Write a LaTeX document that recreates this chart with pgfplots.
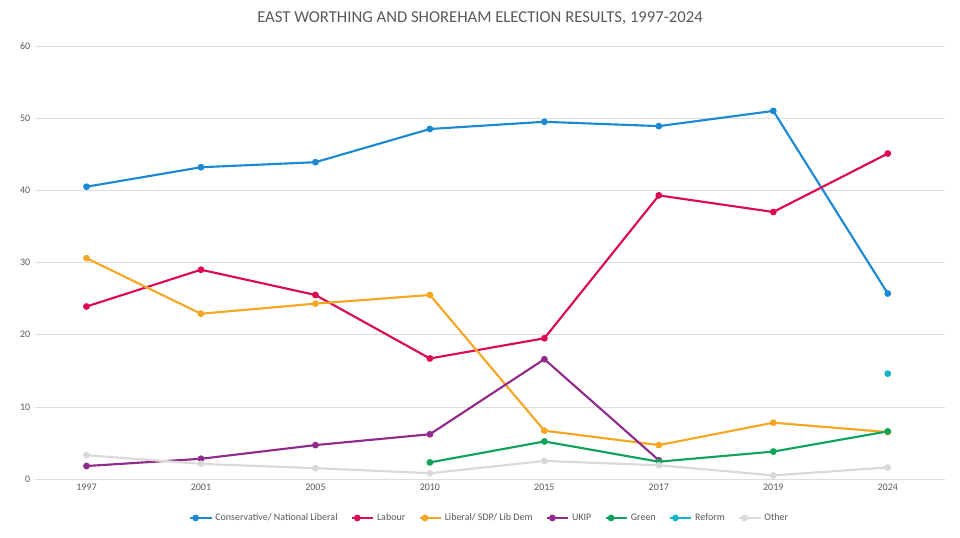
\documentclass[border=0pt]{standalone}
\usepackage{pgfplots}
\pgfplotsset{compat=1.18}
\usepackage{fontspec}
\setmainfont{Carlito}
\definecolor{con}{HTML}{1B8AD3}
\definecolor{lab}{HTML}{DC0A4E}
\definecolor{ld}{HTML}{F5A623}
\definecolor{ukip}{HTML}{902B8C}
\definecolor{grn}{HTML}{11A35A}
\definecolor{ref}{HTML}{14B4CC}
\definecolor{oth}{HTML}{D9D9D9}
\definecolor{txt}{HTML}{595959}
\begin{document}
\begin{tikzpicture}
\path (0,0) rectangle (720pt,402.75pt);
\node[text=txt,font=\fontsize{12.5}{14}\selectfont] at (360pt,389.25pt) {EAST WORTHING AND SHOREHAM ELECTION RESULTS, 1997-2024};
\begin{axis}[
  at={(26.25pt,43.5pt)}, anchor=south west, scale only axis,
  width=682.5pt, height=324.75pt,
  xmin=-0.45, xmax=7.5, ymin=0, ymax=60,
  ytick={0,10,...,60}, xtick={0,...,7},
  xticklabels={1997,2001,2005,2010,2015,2017,2019,2024},
  axis line style={draw=none}, major tick length=0pt,
  ymajorgrids, grid style={draw=black!13},
  tick label style={font=\fontsize{7.5}{8}\selectfont, text=txt},
  /pgf/number format/assume math mode=true,
  every axis plot/.append style={line width=1.6pt, mark=*, mark size=1.7pt},
  legend style={at={(axis description cs:0.5,-0.09)}, anchor=center, draw=none, font=\fontsize{7.5}{8}\selectfont, text=txt, legend columns=-1, /tikz/every even column/.append style={column sep=8pt}},
  legend image code/.code={\draw[#1,line width=1.6pt] (0pt,0pt)--(8pt,0pt); \fill[#1] (4pt,0pt) circle (1.7pt); \draw[#1,line width=1.6pt] (4pt,0pt)--(16pt,0pt);},
]
\addplot[con] coordinates {(0,40.5)(1,43.2)(2,43.9)(3,48.5)(4,49.5)(5,48.9)(6,51.0)(7,25.7)};
\addlegendentry{Conservative/ National Liberal}
\addplot[lab] coordinates {(0,23.9)(1,29.0)(2,25.5)(3,16.7)(4,19.5)(5,39.3)(6,37.0)(7,45.1)};
\addlegendentry{Labour}
\addplot[ld] coordinates {(0,30.6)(1,22.9)(2,24.3)(3,25.5)(4,6.7)(5,4.7)(6,7.8)(7,6.5)};
\addlegendentry{Liberal/ SDP/ Lib  Dem}
\addplot[ukip] coordinates {(0,1.8)(1,2.8)(2,4.7)(3,6.2)(4,16.6)(5,2.6)};
\addlegendentry{UKIP}
\addplot[grn] coordinates {(3,2.3)(4,5.2)(5,2.4)(6,3.8)(7,6.6)};
\addlegendentry{Green}
\addplot[ref] coordinates {(7,14.6)};
\addlegendentry{Reform}
\addplot[oth] coordinates {(0,3.3)(1,2.1)(2,1.5)(3,0.8)(4,2.5)(5,1.9)(6,0.5)(7,1.6)};
\addlegendentry{Other}
\end{axis}
\end{tikzpicture}
\end{document}
